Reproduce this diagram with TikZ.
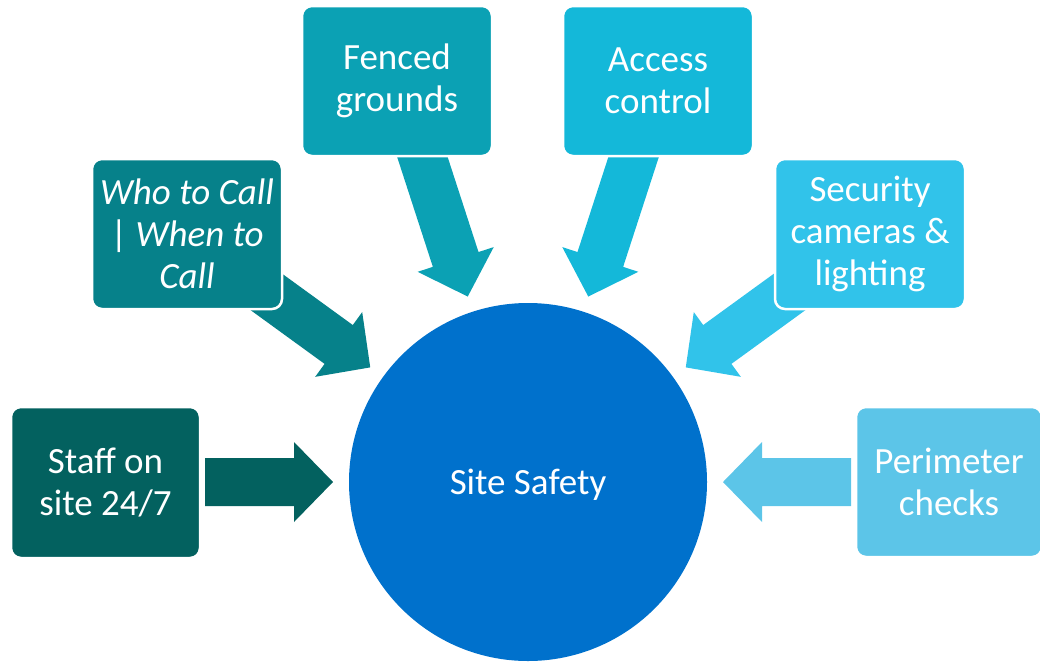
\documentclass[tikz,border=0pt]{standalone}
\usepackage{fontspec}
\setmainfont{Carlito}
\definecolor{cA}{HTML}{03615F}
\definecolor{cB}{HTML}{06818A}
\definecolor{cC}{HTML}{0BA1B4}
\definecolor{cD}{HTML}{14B8D9}
\definecolor{cE}{HTML}{31C3EA}
\definecolor{cF}{HTML}{5CC5E8}
\definecolor{cHub}{HTML}{0071CC}
\begin{document}
\begin{tikzpicture}[x=1pt,y=-1pt,
  box/.style={rectangle, rounded corners=10pt, draw=white, line width=2.5pt,
    minimum width=190pt, minimum height=150pt, text=white, align=center,
    inner sep=0pt, font=\fontsize{37}{42}\selectfont},
  hub/.style={circle, fill=cHub, minimum size=358pt, inner sep=0pt},
  hubtext/.style={text=white, font=\fontsize{37}{42}\selectfont, yshift=-3pt}]
\useasboundingbox (0,0) rectangle (1040,662);
% block arrows
\foreach \ang/\L/\col in {180/323/cA, 144/360/cB, 108/360/cC, 72/360/cD, 36/360/cE, 0/323/cF}{
  \fill[\col, shift={(528,482)}, rotate=\ang]
    (195,0) -- (234,40) -- (234,24) -- (\L,24) -- (\L,-24) -- (234,-24) -- (234,-40) -- cycle;
}
% hub
\node[hub, label={[hubtext]center:Site Safety}] (hub) at (528,482) {};
% boxes
\node[box, fill=cA, minimum width=189pt, minimum height=151pt] (b1) at (105.5,482.5) {Staff on\\site 24/7};
\node[box, fill=cB, font=\fontsize{37}{42}\selectfont\itshape] (b2) at (187,234) {Who to Call\\{\upshape|} When to\\Call};
\node[box, fill=cC] (b3) at (397,81) {Fenced\\grounds};
\node[box, fill=cD] (b4) at (658,81) {Access\\control};
\node[box, fill=cE] (b5) at (870,234) {Security\\cameras \&\\lighting};
\node[box, fill=cF, minimum width=186pt] (b6) at (949,482) {Perimeter\\checks};
\end{tikzpicture}
\end{document}
